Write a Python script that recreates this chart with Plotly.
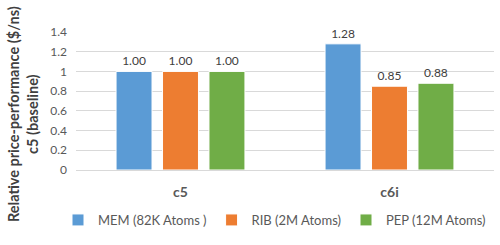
import plotly.graph_objects as go

categories = ["c5", "c6i"]
series_names = ["MEM (82K Atoms )", "RIB (2M Atoms)", "PEP (12M Atoms)"]
mem_values = [1.00, 1.28]
rib_values = [1.00, 0.85]
pep_values = [1.00, 0.88]
colors = ["#5B9BD5", "#ED7D31", "#70AD47"]
y_ticks = [0, 0.2, 0.4, 0.6, 0.8, 1, 1.2, 1.4]
y_title = "Relative price-performance ($/ns)<br>c5 (baseline)"

FONT = "Lato, Open Sans, sans-serif"

fig = go.Figure()
for name, vals, col in zip(series_names, [mem_values, rib_values, pep_values], colors):
    fig.add_trace(go.Bar(
        x=categories, y=vals, name=name,
        marker=dict(color=col, line=dict(color="white", width=1)),
        text=[f"{v:.2f}" for v in vals], textposition="outside",
        textfont=dict(size=12, color="#404040", family=FONT),
        cliponaxis=False,
    ))

fig.update_layout(
    width=500, height=245,
    margin=dict(l=76, r=6, t=32, b=75, autoexpand=False),
    paper_bgcolor="white", plot_bgcolor="white",
    barmode="group", bargap=0.333, bargroupgap=0.226,
    font=dict(family=FONT, color="#595959"),
    showlegend=True,
    legend=dict(orientation="h", xref="paper", x=(58 - 76) / 418, xanchor="left",
                yref="paper", y=(170 - 220) / 138, yanchor="middle",
                font=dict(size=13, color="#595959", family=FONT), itemwidth=30,
                tracegroupgap=0, bgcolor="rgba(0,0,0,0)"),
    xaxis=dict(tickfont=dict(size=14, color="#595959", family=FONT), showgrid=False,
               showline=False, ticks="", ticklabelstandoff=12),
    yaxis=dict(range=[0, 1.4], tickvals=y_ticks, ticktext=[str(t) for t in y_ticks],
               showgrid=True, gridcolor="#D9D9D9", gridwidth=1, zeroline=True,
               zerolinecolor="#D9D9D9", zerolinewidth=1,
               tickfont=dict(size=12, color="#595959", family=FONT), ticklabelstandoff=8),
)
fig.update_xaxes(tickvals=categories, ticktext=[f"<b>{c}</b>" for c in categories])

fig.add_annotation(
    text=f"<b>{y_title}</b>", textangle=-90, xref="paper", yref="paper",
    x=-73 / 418, xanchor="left", y=(245 - 114 - 75) / 138, yanchor="middle",
    showarrow=False, font=dict(size=14.5, color="#404040", family=FONT),
    align="center",
)

fig.write_html("out.html")
